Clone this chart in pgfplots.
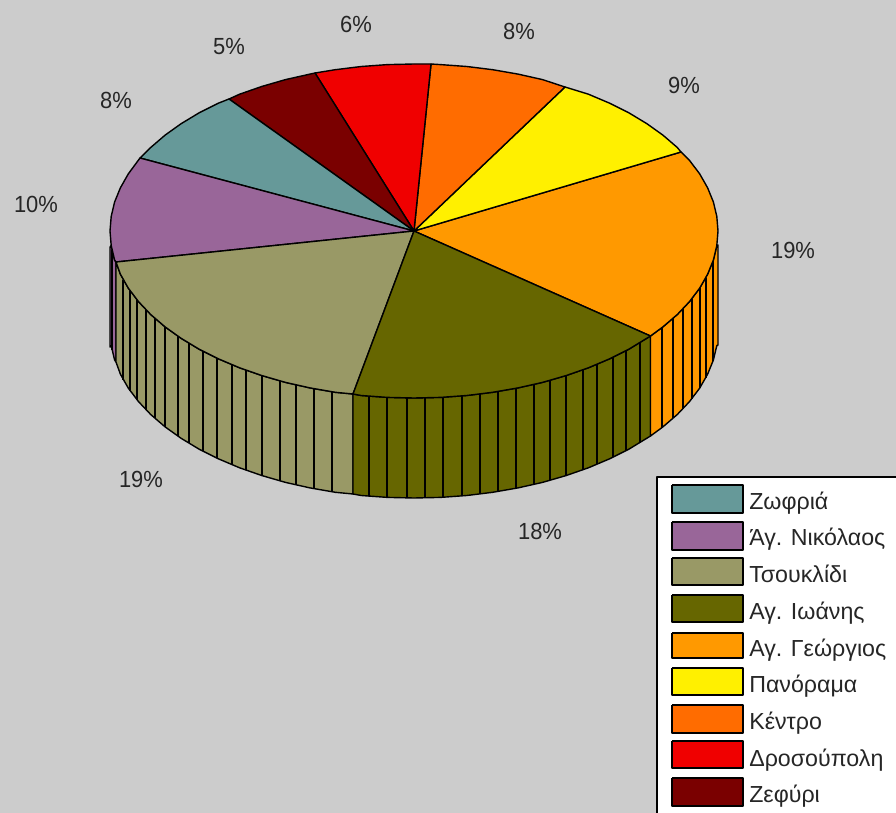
\documentclass[border=0pt]{standalone}
\usepackage{fontspec}
\setmainfont{Liberation Sans}
\newfontfamily\pctfont[FakeStretch=0.94]{Liberation Sans}
\usepackage{pgfplots}
\pgfplotsset{compat=1.18}
\definecolor{bg}{HTML}{CCCCCC}
\definecolor{czo}{HTML}{669999}
\definecolor{cni}{HTML}{996699}
\definecolor{cts}{HTML}{999966}
\definecolor{cio}{HTML}{666600}
\definecolor{cge}{HTML}{FF9900}
\definecolor{cpa}{HTML}{FFF000}
\definecolor{cke}{HTML}{FF6C00}
\definecolor{cdr}{HTML}{F00000}
\definecolor{cze}{HTML}{7A0000}
\begin{document}
\begin{tikzpicture}
\begin{axis}[
  scale only axis, width=672pt, height=609.75pt,
  xmin=0, xmax=896, ymin=0, ymax=813, y dir=reverse,
  hide axis, clip=true, unbounded coords=jump,
  every axis plot/.append style={mark=none, line join=round, line width=1.05pt},
]
% background
\addplot[fill=bg, draw=none] coordinates {(0,0)(896,0)(896,813)(0,813)(0,0)};

% side walls
\addplot[fill=cni, draw=black] coordinates {(110,247)(110,347)(111.2,345.6)(114.6,360)(116,362)(116,262)(114.6,260)(111.2,245.6)(110,247)};
\addplot[fill=cts, draw=black] coordinates {(116,262)(120.4,274.2)(128.3,288.1)(138.5,301.6)(150.7,314.5)(165,326.8)(181.1,338.3)(199,349.1)(218.6,358.9)(239.6,367.8)(262,375.6)(285.5,382.4)(310,387.9)(335.3,392.3)(353,394)
 (353,494)(335.3,492.3)(310,487.9)(285.5,482.4)(262,475.6)(239.6,467.8)(218.6,458.9)(199,449.1)(181.1,438.3)(165,426.8)(150.7,414.5)(138.5,401.6)(128.3,388.1)(120.4,374.2)(116,362)(116,262)};
\addplot[fill=cio, draw=black] coordinates {(353,394)(361.2,395.5)(387.5,397.4)(414,398)(440.5,397.4)(466.8,395.5)(492.7,392.3)(518,387.9)(542.5,382.4)(566,375.6)(588.4,367.8)(609.4,358.9)(629,349.1)(650.5,336)
 (650.5,436)(629,449.1)(609.4,458.9)(588.4,467.8)(566,475.6)(542.5,482.4)(518,487.9)(492.7,492.3)(466.8,495.5)(440.5,497.4)(414,498)(387.5,497.4)(361.2,495.5)(353,494)(353,394)};
\addplot[fill=cge, draw=black] coordinates {(650.5,336)(663,326.8)(677.3,314.5)(689.5,301.6)(699.7,288.1)(707.6,274.2)(713.4,260)(716.8,245.6)(718,245)
 (718,345)(716.8,345.6)(713.4,360)(707.6,374.2)(699.7,388.1)(689.5,401.6)(677.3,414.5)(663,426.8)(650.5,436)(650.5,336)};

% facet lines
\addplot[black] coordinates {
(112,250)(112,350)(112,nan)
(123,280)(123,380)(123,nan)
(130,290.6)(130,390.6)(130,nan)
(137,299.8)(137,399.8)(137,nan)
(146,309.8)(146,409.8)(146,nan)
(155,318.4)(155,418.4)(155,nan)
(165,326.8)(165,426.8)(165,nan)
(178,336.3)(178,436.3)(178,nan)
(189,343.3)(189,443.3)(189,nan)
(203,351.2)(203,451.2)(203,nan)
(217,358.2)(217,458.2)(217,nan)
(232,364.8)(232,464.8)(232,nan)
(246,370.2)(246,470.2)(246,nan)
(262,375.6)(262,475.6)(262,nan)
(280,380.9)(280,480.9)(280,nan)
(296,384.9)(296,484.9)(296,nan)
(314,388.7)(314,488.7)(314,nan)
(332,391.8)(332,491.8)(332,nan)
(369,396.2)(369,496.2)(369,nan)
(387,397.3)(387,497.3)(387,nan)
(407,398)(407,498)(407,nan)
(425,397.9)(425,497.9)(425,nan)
(443,397.2)(443,497.2)(443,nan)
(462,395.9)(462,495.9)(462,nan)
(480,394)(480,494)(480,nan)
(498,391.5)(498,491.5)(498,nan)
(516,388.3)(516,488.3)(516,nan)
(534,384.4)(534,484.4)(534,nan)
(550,380.3)(550,480.3)(550,nan)
(566,375.6)(566,475.6)(566,nan)
(583,369.8)(583,469.8)(583,nan)
(597,364.4)(597,464.4)(597,nan)
(613,357.3)(613,457.3)(613,nan)
(626,350.7)(626,450.7)(626,nan)
(640,342.7)(640,442.7)(640,nan)
(662,327.6)(662,427.6)(662,nan)
(673,318.4)(673,418.4)(673,nan)
(683,308.8)(683,408.8)(683,nan)
(692,298.6)(692,398.6)(692,nan)
(700,287.6)(700,387.6)(700,nan)
(706,277.5)(706,377.5)(706,nan)
(713,261.1)(713,361.1)(713,nan)
};

% top sectors
\addplot[fill=cge, draw=black] coordinates {(414,231)(650.5,336)(663,326.8)(677.3,314.5)(689.5,301.6)(699.7,288.1)(707.6,274.2)(713.4,260)(716.8,245.6)(718,231)(716.8,216.4)(713.4,202)(707.6,187.8)(699.7,173.9)(689.5,160.4)(681,152)(414,231)};
\addplot[fill=cpa, draw=black] coordinates {(414,231)(681,152)(677.3,147.5)(663,135.2)(646.9,123.7)(629,112.9)(609.4,103.1)(588.4,94.2)(565,87)(414,231)};
\addplot[fill=cke, draw=black] coordinates {(414,231)(565,87)(542.5,79.6)(518,74.1)(492.7,69.7)(466.8,66.5)(440.5,64.6)(431,64)(414,231)};
\addplot[fill=cdr, draw=black] coordinates {(414,231)(431,64)(414,64)(387.5,64.6)(361.2,66.5)(335.3,69.7)(315,73)(414,231)};
\addplot[fill=cze, draw=black] coordinates {(414,231)(315,73)(310,74.1)(285.5,79.6)(262,86.4)(239.6,94.2)(229,99)(414,231)};
\addplot[fill=czo, draw=black] coordinates {(414,231)(229,99)(218.6,103.1)(199,112.9)(181.1,123.7)(165,135.2)(150.7,147.5)(140,158)(414,231)};
\addplot[fill=cni, draw=black] coordinates {(414,231)(140,158)(128.3,173.9)(120.4,187.8)(114.6,202)(111.2,216.4)(110,231)(111.2,245.6)(114.6,260)(116,262)(414,231)};
\addplot[fill=cts, draw=black] coordinates {(414,231)(116,262)(120.4,274.2)(128.3,288.1)(138.5,301.6)(150.7,314.5)(165,326.8)(181.1,338.3)(199,349.1)(218.6,358.9)(239.6,367.8)(262,375.6)(285.5,382.4)(310,387.9)(335.3,392.3)(353,394)(414,231)};
\addplot[fill=cio, draw=black] coordinates {(414,231)(353,394)(361.2,395.5)(387.5,397.4)(414,398)(440.5,397.4)(466.8,395.5)(492.7,392.3)(518,387.9)(542.5,382.4)(566,375.6)(588.4,367.8)(609.4,358.9)(629,349.1)(650.5,336)(414,231)};

% percentage labels
\tikzset{pc/.style={font=\pctfont\fontsize{17.5pt}{19pt}\selectfont, text=black!85}}
\node[pc] at (axis cs:356,24) {6\%};
\node[pc] at (axis cs:519,31) {8\%};
\node[pc] at (axis cs:684,85) {9\%};
\node[pc] at (axis cs:793,250) {19\%};
\node[pc] at (axis cs:540,531) {18\%};
\node[pc] at (axis cs:141,479) {19\%};
\node[pc] at (axis cs:36,204) {10\%};
\node[pc] at (axis cs:116,100) {8\%};
\node[pc] at (axis cs:229,47) {5\%};

% legend box
\addplot[fill=white, draw=black, line width=1.3pt] coordinates {(657,813)(657,477)(896,477)};
\addplot[fill=white, draw=none] coordinates {(658,478)(896,478)(896,813)(658,813)(658,478)};
\addplot[fill=czo, draw=black, line width=1.2pt] coordinates {(672,485)(743,485)(743,513)(672,513)(672,485)};
\addplot[fill=cni, draw=black, line width=1.2pt] coordinates {(672,522)(743,522)(743,550)(672,550)(672,522)};
\addplot[fill=cts, draw=black, line width=1.2pt] coordinates {(672,558)(743,558)(743,585)(672,585)(672,558)};
\addplot[fill=cio, draw=black, line width=1.2pt] coordinates {(672,595)(743,595)(743,622)(672,622)(672,595)};
\addplot[fill=cge, draw=black, line width=1.2pt] coordinates {(672,633)(743,633)(743,658)(672,658)(672,633)};
\addplot[fill=cpa, draw=black, line width=1.2pt] coordinates {(672,668)(743,668)(743,695)(672,695)(672,668)};
\addplot[fill=cke, draw=black, line width=1.2pt] coordinates {(672,705)(743,705)(743,733)(672,733)(672,705)};
\addplot[fill=cdr, draw=black, line width=1.2pt] coordinates {(672,741)(743,741)(743,768)(672,768)(672,741)};
\addplot[fill=cze, draw=black, line width=1.2pt] coordinates {(672,778)(743,778)(743,806)(672,806)(672,778)};
\tikzset{lg/.style={anchor=base west, inner sep=0pt, font=\fontsize{17.4pt}{19pt}\selectfont, text=black!85}}
\node[lg] at (axis cs:749,509) {Ζωφριά};
\node[lg] at (axis cs:749,545) {Άγ. Νικόλαος};
\node[lg] at (axis cs:749,582) {Τσουκλίδι};
\node[lg] at (axis cs:749,619) {Αγ. Ιωάνης};
\node[lg] at (axis cs:749,656) {Αγ. Γεώργιος};
\node[lg] at (axis cs:749,692) {Πανόραμα};
\node[lg] at (axis cs:749,729) {Κέντρο};
\node[lg] at (axis cs:749,766) {Δροσούπολη};
\node[lg] at (axis cs:749,802) {Ζεφύρι};
\end{axis}
\end{tikzpicture}
\end{document}
